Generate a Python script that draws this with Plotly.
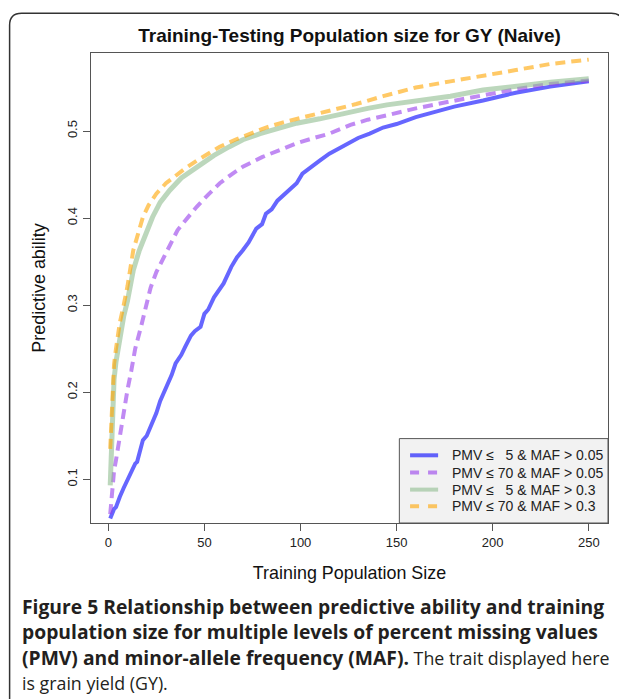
import plotly.graph_objects as go

# ---------------- data ----------------
series_names = [
    "PMV \u2264 \u20075 & MAF > 0.05",
    "PMV \u2264 70 & MAF > 0.05",
    "PMV \u2264 \u20075 & MAF > 0.3",
    "PMV \u2264 70 & MAF > 0.3",
]

blue_x = [1, 2, 3, 4, 5, 6, 8, 10, 12, 14, 15, 18, 20, 22, 25, 27, 30, 33, 35, 38, 40, 43, 45, 48, 50,
          52, 55, 60, 64, 67, 70, 73, 77, 80, 82, 85, 88, 92, 95, 98, 101, 105, 110, 115, 120, 126, 130,
          136, 143, 150, 160, 170, 180, 195, 212, 230, 240, 250]
blue_y = [0.055, 0.060, 0.066, 0.068, 0.075, 0.080, 0.090, 0.099, 0.110, 0.118, 0.120, 0.145, 0.150,
          0.160, 0.176, 0.190, 0.205, 0.220, 0.233, 0.243, 0.252, 0.265, 0.270, 0.275, 0.290, 0.295,
          0.309, 0.325, 0.344, 0.355, 0.363, 0.372, 0.388, 0.393, 0.405, 0.410, 0.420, 0.428, 0.433,
          0.440, 0.451, 0.458, 0.466, 0.474, 0.480, 0.487, 0.492, 0.497, 0.504, 0.508, 0.516, 0.522,
          0.528, 0.535, 0.544, 0.551, 0.554, 0.557]

purple_x = [1, 2, 3, 4, 5, 6, 8, 10, 12, 14, 17, 20, 22, 25, 29, 33, 36, 40, 46, 52, 58, 64, 70, 80,
            90, 98, 107, 115, 126, 135, 145, 160, 178, 195, 212, 230, 250]
purple_y = [0.060, 0.090, 0.110, 0.122, 0.135, 0.148, 0.180, 0.203, 0.225, 0.250, 0.275, 0.300, 0.320,
            0.338, 0.355, 0.372, 0.386, 0.397, 0.413, 0.427, 0.440, 0.450, 0.459, 0.470, 0.479, 0.486,
            0.492, 0.497, 0.507, 0.513, 0.518, 0.526, 0.534, 0.541, 0.548, 0.554, 0.558]

green_x = [1, 2, 3, 4, 5, 6, 8, 10, 13, 16, 20, 23, 27, 32, 38, 46, 55, 63, 70, 79, 88, 98, 110, 122,
           135, 145, 160, 178, 195, 212, 230, 250]
green_y = [0.093, 0.180, 0.215, 0.235, 0.250, 0.262, 0.287, 0.305, 0.340, 0.362, 0.385, 0.401, 0.418,
           0.432, 0.446, 0.459, 0.472, 0.482, 0.490, 0.497, 0.503, 0.509, 0.514, 0.520, 0.526, 0.530,
           0.534, 0.540, 0.547, 0.552, 0.556, 0.560]

orange_x = [1, 2, 3, 4, 5, 6, 8, 10, 13, 15, 18, 21, 25, 30, 34, 40, 46, 52, 58, 66, 74, 82, 91, 100,
            112, 120, 129, 143, 160, 178, 195, 212, 230, 246, 250]
orange_y = [0.135, 0.200, 0.232, 0.250, 0.265, 0.280, 0.300, 0.322, 0.363, 0.380, 0.401, 0.415, 0.428,
            0.440, 0.447, 0.457, 0.466, 0.474, 0.482, 0.490, 0.497, 0.504, 0.510, 0.515, 0.522, 0.527,
            0.531, 0.540, 0.550, 0.557, 0.564, 0.570, 0.577, 0.581, 0.582]

x_ticks = [0, 50, 100, 150, 200, 250]
y_ticks = [0.1, 0.2, 0.3, 0.4, 0.5]

title_text = "Training-Testing Population size for GY (Naive)"
x_title = "Training Population Size"
y_title = "Predictive ability"
REG = '<span style="font-size:17.8px">{}</span>'
caption_lines = [
    "<b>Figure 5 Relationship between predictive ability and training</b>",
    "<b>population size for multiple levels of percent missing values</b>",
    "<b>(PMV) and minor-allele frequency (MAF).</b>" + REG.format(" The trait displayed here"),
    REG.format("is grain yield (GY)."),
]

# ---------------- styles ----------------
styles = [
    dict(color="rgba(0,0,255,0.6)", width=4, dash="solid"),
    dict(color="rgba(150,60,235,0.6)", width=4, dash="10px,6px"),
    dict(color="rgba(143,188,143,0.6)", width=5, dash="solid"),
    dict(color="rgba(255,165,0,0.6)", width=4, dash="10px,6px"),
]
legend_dash = ["solid", "9px,9px", "solid", "9px,9px"]
xs = [blue_x, purple_x, green_x, orange_x]
ys = [blue_y, purple_y, green_y, orange_y]

FONT = "Liberation Sans, Arial, sans-serif"

fig = go.Figure()
for name, x, y, st in zip(series_names, xs, ys, styles):
    fig.add_trace(go.Scatter(x=x, y=y, mode="lines", name=name, line=st, showlegend=False))

# the page body adds an 8px offset; work in window pixels and subtract it
OFF = 8
W, H = 627 - OFF, 699 - OFF
L, R, T, B = 91.3, 607.7, 52.7, 522.7          # plot box in window pixels
ml, mr, mt, mb = L - OFF, 627 - R, T - OFF, 699 - B
pw, ph = R - L, B - T


def X(px):
    return (px - L) / pw


def Y(py):
    return (B - py) / ph


fig.update_layout(
    width=W, height=H,
    margin=dict(l=ml, r=mr, t=mt, b=mb, pad=0),
    paper_bgcolor="white", plot_bgcolor="white",
    font=dict(family=FONT, color="#222222", size=13),
    title=dict(text="<b>" + title_text + "</b>", x=0.5, xref="paper", xanchor="center",
               y=1 - (35 - OFF) / H, yref="container", yanchor="middle",
               font=dict(family=FONT, size=19, color="#111111")),
    showlegend=False,
    xaxis=dict(range=[-9, 260], tickmode="array", tickvals=x_ticks,
               ticktext=[str(v) for v in x_ticks],
               showgrid=False, zeroline=False, showline=True, linecolor="#555555", linewidth=1,
               mirror=True, ticks="outside", ticklen=7, tickcolor="#555555",
               tickfont=dict(family=FONT, size=13, color="#222222"),
               title=dict(text=x_title, font=dict(family=FONT, size=17.9, color="#111111"), standoff=17)),
    yaxis=dict(range=[0.0498, 0.5896], tickmode="array", tickvals=y_ticks,
               ticktext=[f"{v:.1f}" for v in y_ticks], tickangle=-90, ticklabelstandoff=1,
               showgrid=False, zeroline=False, showline=True, linecolor="#555555", linewidth=1,
               mirror=True, ticks="outside", ticklen=7, tickcolor="#555555",
               tickfont=dict(family=FONT, size=13, color="#222222"),
               title=dict(text=y_title, font=dict(family=FONT, size=17.9, color="#111111"), standoff=14)),
)

# ---- legend box (drawn like R's legend) ----
lg_x0, lg_x1, lg_y0, lg_y1 = 399.3, R, 438.3, B
fig.add_shape(type="rect", xref="paper", yref="paper", x0=X(lg_x0), x1=X(lg_x1), y0=Y(lg_y1), y1=Y(lg_y0),
              fillcolor="#f2f2f2", line=dict(color="#555555", width=1), layer="above")
row_y = [455, 472.3, 489.3, 506]
for name, st, dsh, ry in zip(series_names, styles, legend_dash, row_y):
    fig.add_shape(type="line", xref="paper", yref="paper", x0=X(410), x1=X(438), y0=Y(ry), y1=Y(ry),
                  line=dict(color=st["color"], width=4, dash=dsh), layer="above")
    fig.add_annotation(text=name, xref="paper", yref="paper", x=X(450), y=Y(ry), xanchor="left",
                       yanchor="middle", showarrow=False,
                       font=dict(family=FONT, size=14, color="#222222"))

# caption lines
cap_y = [606, 631.5, 657, 682.5]
for txt, cy in zip(caption_lines, cap_y):
    fig.add_annotation(text=txt, xref="paper", yref="paper", x=X(20), y=Y(cy),
                       xanchor="left", yanchor="middle", showarrow=False, align="left",
                       font=dict(family="Open Sans, sans-serif", size=19.3, color="#231f20"))

# outer rounded frame
fx0, fx1, fy0, fy1, r = 10, 623, 13, 760, 12
path = (f"M {X(fx0)},{Y(fy1)} L {X(fx0)},{Y(fy0 + r)} Q {X(fx0)},{Y(fy0)} {X(fx0 + r)},{Y(fy0)} "
        f"L {X(fx1 - r)},{Y(fy0)} Q {X(fx1)},{Y(fy0)} {X(fx1)},{Y(fy0 + r)} L {X(fx1)},{Y(fy1)}")
fig.add_shape(type="path", path=path, xref="paper", yref="paper",
              line=dict(color="#333333", width=1.5), layer="below")

fig.write_html("out.html")
